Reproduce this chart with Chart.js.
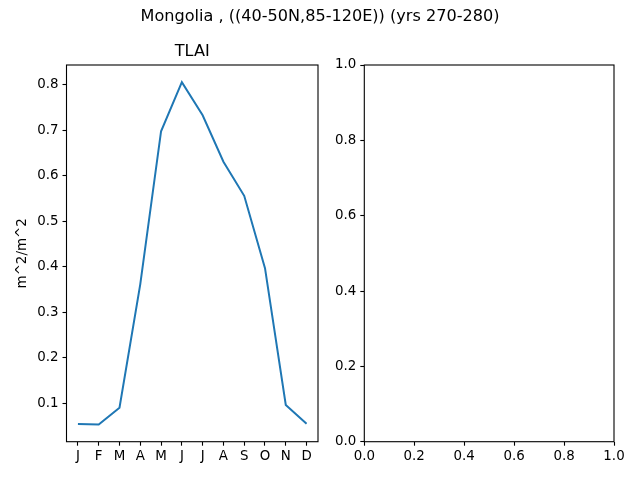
<!DOCTYPE html>
<html>
<head>
<meta charset="utf-8">
<script src="https://cdn.jsdelivr.net/npm/chart.js@4/dist/chart.umd.min.js"></script>
<style>
html,body{margin:0;padding:0;background:#fff;}
#wrap{position:relative;width:640px;height:480px;overflow:hidden;}
canvas{position:absolute;left:0;top:0;}
.txt{position:absolute;text-align:center;font-family:"DejaVu Sans";font-size:16.1px;line-height:22px;color:#000;}
#sup{left:0;top:5px;width:640px;}
#ttl{left:66.5px;top:40px;width:251.5px;}
</style>
</head>
<body>
<div id="wrap">
<canvas id="c1" width="640" height="480"></canvas>
<canvas id="c2" width="640" height="480"></canvas>
<div id="sup" class="txt">Mongolia , ((40-50N,85-120E)) (yrs 270-280)</div>
<div id="ttl" class="txt">TLAI</div>
</div>
<script>
const months = ["J","F","M","A","M","J","J","A","S","O","N","D"];
const tlai = [0.054, 0.053, 0.090, 0.362, 0.698, 0.806, 0.733, 0.631, 0.556, 0.397, 0.096, 0.055];
const leftYTicks = [0.1, 0.2, 0.3, 0.4, 0.5, 0.6, 0.7, 0.8];
const rightTicks = [0.0, 0.2, 0.4, 0.6, 0.8, 1.0];

Chart.defaults.font.family = "DejaVu Sans";
Chart.defaults.color = "#000";
Chart.defaults.devicePixelRatio = 1;

const frame = {
  id: 'frame',
  afterDraw(chart) {
    const a = chart.chartArea, ctx = chart.ctx;
    ctx.save();
    ctx.strokeStyle = '#000';
    ctx.lineWidth = 1.1;
    ctx.strokeRect(a.left, a.top, a.right - a.left, a.bottom - a.top);
    ctx.restore();
  }
};

function axisCommon() {
  return {
    border: {display: false},
    grid: {drawOnChartArea: false, drawTicks: true, tickLength: 4, tickColor: '#000', tickWidth: 1.1},
  };
}

// left chart
const xMin = -0.55, xMax = 11.55;
const dataMin = Math.min(...tlai), dataMax = Math.max(...tlai);
const m = (dataMax - dataMin) * 0.05;
new Chart(document.getElementById('c1'), {
  type: 'line',
  data: {
    datasets: [{
      data: tlai.map((v, i) => ({x: i, y: v})),
      borderColor: '#1f77b4',
      borderWidth: 2,
      pointRadius: 0,
      tension: 0,
      fill: false
    }]
  },
  options: {
    responsive: false,
    animation: false,
    events: [],
    layout: {padding: {left: 10, top: 65, right: 322, bottom: 0}},
    plugins: {
      legend: {display: false},
      tooltip: {enabled: false},
      title: {display: false}
    },
    scales: {
      x: Object.assign(axisCommon(), {
        type: 'linear', min: xMin, max: xMax,
        afterBuildTicks: s => { s.ticks = months.map((_, i) => ({value: i})); },
        afterFit: s => { s.height = 38.3; },
        ticks: {autoSkip: false, maxRotation: 0, padding: 3, font: {size: 13.4},
          callback: (v) => months[Math.round(v)]}
      }),
      y: Object.assign(axisCommon(), {
        type: 'linear', min: dataMin - m, max: dataMax + m,
        afterBuildTicks: s => { s.ticks = leftYTicks.map(v => ({value: v})); },
        afterFit: s => { s.width = 56.5; },
        ticks: {padding: 4, font: {size: 13.4}, callback: v => v.toFixed(1)},
        title: {display: true, text: 'm^2/m^2', font: {size: 13.4}, padding: {top: 4, bottom: 0}, color: '#000'}
      })
    }
  },
  plugins: [frame]
});

// right chart
new Chart(document.getElementById('c2'), {
  type: 'line',
  data: {datasets: [{data: []}]},
  options: {
    responsive: false,
    animation: false,
    events: [],
    layout: {padding: {left: 320, top: 65, right: 26, bottom: 0}},
    plugins: {legend: {display: false}, tooltip: {enabled: false}},
    scales: {
      x: Object.assign(axisCommon(), {
        type: 'linear', min: 0, max: 1,
        afterBuildTicks: s => { s.ticks = rightTicks.map(v => ({value: v})); },
        afterFit: s => { s.height = 38.3; },
        ticks: {autoSkip: false, maxRotation: 0, padding: 3, font: {size: 13.4}, callback: v => v.toFixed(1)}
      }),
      y: Object.assign(axisCommon(), {
        type: 'linear', min: 0, max: 1,
        afterBuildTicks: s => { s.ticks = rightTicks.map(v => ({value: v})); },
        afterFit: s => { s.width = 44.3; },
        ticks: {padding: 4, font: {size: 13.4}, callback: v => v.toFixed(1)}
      })
    }
  },
  plugins: [frame]
});
</script>
</body>
</html>
